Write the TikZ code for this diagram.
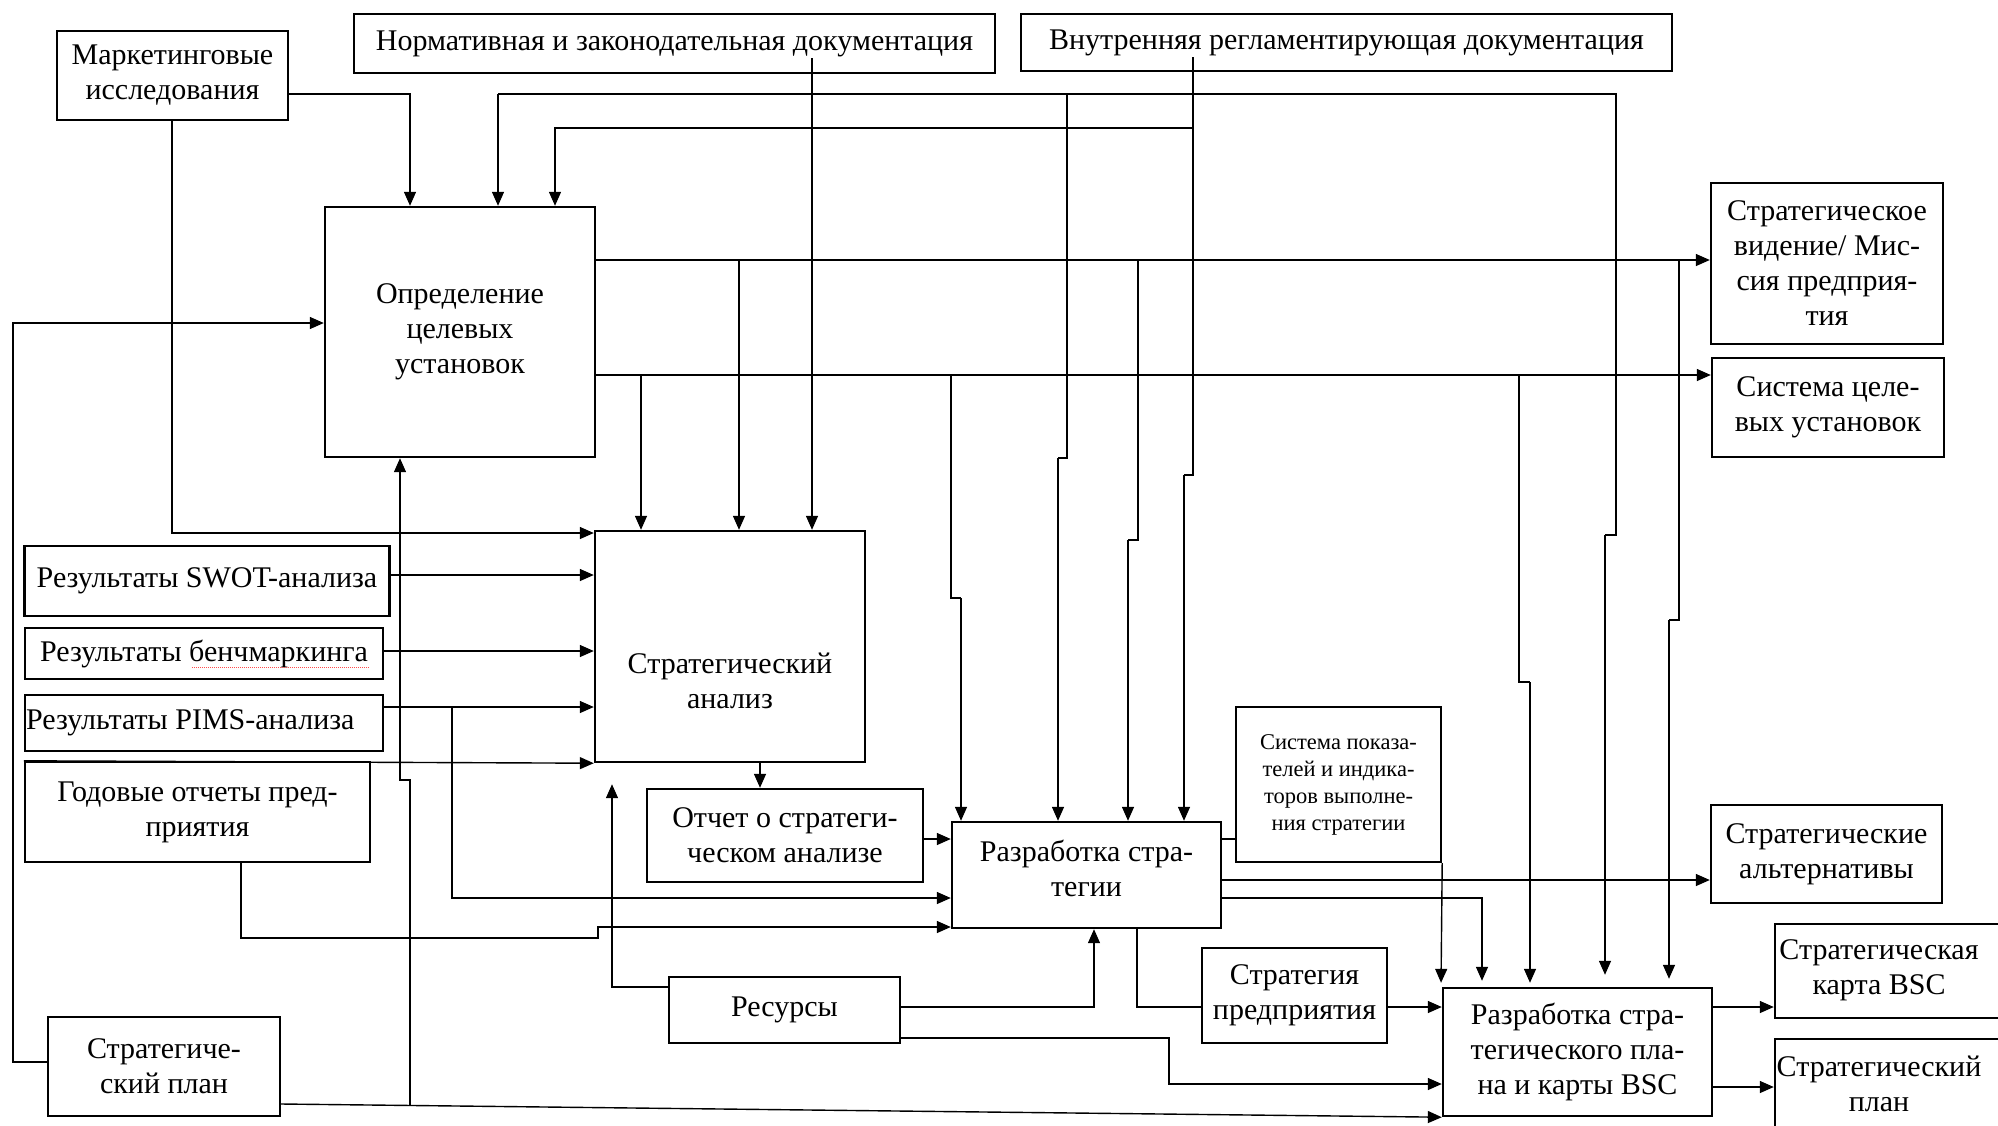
\documentclass[tikz,border=0pt]{standalone}
\usepackage{fontspec}
\setmainfont{Liberation Serif}
\usetikzlibrary{arrows.meta}
\begin{document}
\begin{tikzpicture}[x=1pt,y=-1pt,
  box/.style={draw, line width=2.4pt, inner sep=0pt, align=center,
              font=\fontsize{30}{35}\selectfont},
  txt/.style={inner sep=0pt, align=center, font=\fontsize{30}{35}\selectfont},
  ln/.style={line width=1.4pt},
  arr/.style={ln, -{Triangle[length=14pt,width=12pt]}},
]
\clip (0,0) rectangle (1998,1125);
\fill[white] (0,0) rectangle (1998,1125);

% ---------- boxes ----------
\node[box, minimum width=231pt, minimum height=89pt] (mkt) at (172.5,75.5) {Маркетинговые\\исследования};
\node[box, minimum width=641pt, minimum height=59pt] (norm) at (674.5,43.5) {Нормативная и законодательная документация};
\node[box, minimum width=651pt, minimum height=57pt] (intd) at (1346.5,42.5) {Внутренняя регламентирующая документация};
\node[box, minimum width=270pt, minimum height=250pt] (opr) at (460,332) {Определение\\целевых\\установок};
\node[box, minimum width=232pt, minimum height=161pt] (vis) at (1827,263.5) {Стратегическое\\видение/ Мис-\\сия предприя-\\тия};
\node[box, minimum width=232pt, minimum height=99pt] (sys) at (1828,407.5) {Система целе-\\вых установок};
\node[box, minimum width=270pt, minimum height=231pt] (ana) at (730,646.5) {};
\node[txt] (ana-t) at (730,681) {Стратегический\\анализ};
\node[box, minimum width=365pt, minimum height=70pt] (swot) at (207,581) {Результаты SWOT-анализа};
\node[box, minimum width=358pt, minimum height=51pt] (bench) at (204,653.5) {Результаты бенчмаркинга};
\node[box, minimum width=358pt, minimum height=56pt] (pims) at (204,723) {};
\node[txt, anchor=west] (pims-t) at (26,723) {Результаты PIMS-анализа};
\node[box, minimum width=345pt, minimum height=100pt] (god) at (197.5,812) {Годовые отчеты пред-\\приятия};
\node[box, minimum width=276pt, minimum height=93pt] (otch) at (785,835.5) {Отчет о стратеги-\\ческом анализе};
\node[box, minimum width=269pt, minimum height=106pt] (razs) at (1086.5,875) {};
\node[txt] (razs-t) at (1086.5,868) {Разработка стра-\\тегии};
\node[box, minimum width=205pt, minimum height=155pt, font=\fontsize{22.5}{27}\selectfont] (spok) at (1338.5,784.5) {Система показа-\\телей и индика-\\торов выполне-\\ния стратегии};
\node[box, minimum width=231pt, minimum height=98pt] (alt) at (1826.5,854) {Стратегические\\альтернативы};
\node[box, minimum width=231pt, minimum height=66pt] (res) at (784.5,1010) {Ресурсы};
\node[box, minimum width=185pt, minimum height=95pt] (strp) at (1294.5,995.5) {Стратегия\\предприятия};
\node[box, minimum width=269pt, minimum height=128pt] (razp) at (1577.5,1052) {Разработка стра-\\тегического пла-\\на и карты BSC};
\node[box, minimum width=230pt, minimum height=94pt] (bsc) at (1890,971) {};
\node[txt] (bsc-t) at (1879,970) {Стратегическая\\карта BSC};
\node[box, minimum width=230pt, minimum height=96pt] (spr) at (1890,1087) {};
\node[txt] (spr-t) at (1879,1084) {Стратегический\\план};
\node[box, minimum width=232pt, minimum height=99pt] (spl) at (164,1066.5) {Стратегиче-\\ский план};

% spell-check mark under the word
\draw[red!70, densely dotted, line width=1pt] (192,667) -- (370,667);

% ---------- controls from above ----------
\draw[arr] (mkt.east |- 0,94) -| (410,0 |- opr.north);
\draw[ln] (498,94) -- (1616,94) -- (1616,535) -- (1605,535);
\draw[arr] (498,94) -- (498,0 |- opr.north);
\draw[arr, shorten >=12pt] (1605,535) -- (1605,0 |- razp.north);
\draw[ln] (1067,94) -- (1067,458) -- (1058,458);
\draw[arr] (1058,458) -- (1058,0 |- razs.north);

\draw[ln, shorten <=-15pt] (1193,0 |- intd.south) -- (1193,475) -- (1184,475);
\draw[arr] (1184,475) -- (1184,0 |- razs.north);
\draw[arr] (1193,128) -| (555,0 |- opr.north);

\draw[arr, shorten <=-16pt] (812,0 |- norm.south) -- (812,0 |- ana.north);

% ---------- outputs of goal setting ----------
\draw[arr] (opr.east |- 0,260) -- (vis.west |- 0,260);
\draw[arr] (739,260) -- (739,0 |- ana.north);
\draw[ln] (1138,260) -- (1138,540) -- (1128,540);
\draw[arr] (1128,540) -- (1128,0 |- razs.north);
\draw[ln] (1679,260) -- (1679,620) -- (1669,620);
\draw[arr, shorten >=8pt] (1669,620) -- (1669,0 |- razp.north);

\draw[arr] (opr.east |- 0,375) -- (sys.west |- 0,375);
\draw[arr] (641,375) -- (641,0 |- ana.north);
\draw[ln] (951,375) -- (951,598) -- (961,598);
\draw[arr] (961,598) -- (961,0 |- razs.north);
\draw[ln] (1519,375) -- (1519,682) -- (1530,682);
\draw[arr, shorten >=4pt] (1530,682) -- (1530,0 |- razp.north);

% ---------- inputs on the left ----------
\draw[arr] (spl.west |- 0,1062) -- (13,1062) -- (13,323) -- (opr.west |- 0,323);
\draw[arr] (172,0 |- mkt.south) |- (ana.west |- 0,533);
\draw[arr] (swot.east |- 0,575) -- (ana.west |- 0,575);
\draw[arr] (bench.east |- 0,651) -- (ana.west |- 0,651);
\draw[arr] (pims.east |- 0,707) -- (ana.west |- 0,707);
\draw[arr] (452,707) |- (razs.west |- 0,898);
\draw[arr] (god.north west) -- (ana.south west);
\draw[arr] (241,0 |- god.south) -- (241,938) -- (598,938) -- (598,927) -- (razs.west |- 0,927);

% ---------- analysis and strategy ----------
\draw[arr] (760,0 |- ana.south) -- (760,0 |- otch.north);
\draw[arr] (otch.east |- 0,839) -- (razs.west |- 0,839);
\draw[arr, shorten >=21pt] (res.west |- 0,987) -| (612,0 |- ana.south);
\draw[arr] (res.east |- 0,1007) -| (1094,0 |- razs.south);
\draw[arr] (res.east |- 0,1038) -- (1169,1038) |- (razp.west |- 0,1084);
\draw[ln] (1137,0 |- razs.south) |- (strp.west |- 0,1007);
\draw[arr] (strp.east |- 0,1007) -- (razp.west |- 0,1007);
\draw[ln] (razs.east |- 0,839) -- (spok.west |- 0,839);
\draw[arr, shorten >=4pt] (spok.south east) -- (1441,0 |- razp.north);
\draw[arr] (razs.east |- 0,880) -- (alt.west |- 0,880);
\draw[arr, shorten >=6pt] (razs.east |- 0,898) -| (1482,0 |- razp.north);

% ---------- strategic plan feedback ----------
\draw[arr] (spl.east |- 0,1104) -- (razp.south west);
\draw[arr] (410,1105) -- (410,780) -- (400,780) -- (400,0 |- opr.south);

% ---------- final outputs ----------
\draw[arr] (razp.east |- 0,1007) -- (bsc.west |- 0,1007);
\draw[arr] (razp.east |- 0,1087) -- (spr.west |- 0,1087);
\end{tikzpicture}
\end{document}
